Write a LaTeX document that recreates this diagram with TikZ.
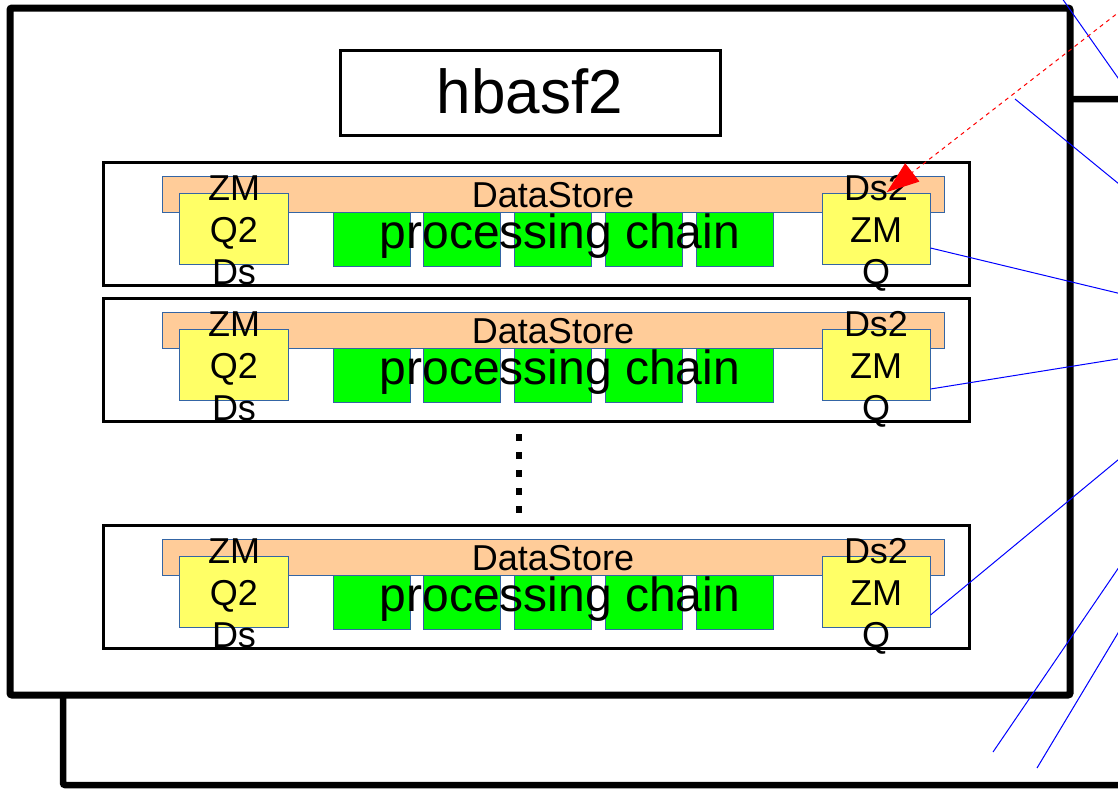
\documentclass[tikz,border=0pt]{standalone}
\usepackage{fontspec}
\setmainfont{Liberation Sans}
\usetikzlibrary{arrows.meta}

\definecolor{dsorange}{RGB}{255,204,153}
\definecolor{zmqyellow}{RGB}{255,255,102}
\definecolor{chaingreen}{RGB}{0,255,0}
\definecolor{shapeedge}{RGB}{52,101,164}

\tikzset{
  frame/.style={draw=black, line width=7pt, fill=white, rounded corners=2pt},
  titlebox/.style={draw=black, line width=3pt, fill=white, inner sep=0pt, outer sep=0pt,
    minimum width=380pt, minimum height=85pt, anchor=north west},
  modbox/.style={draw=black, line width=3pt, fill=white, inner sep=0pt, outer sep=0pt,
    minimum width=865.5pt, minimum height=123.5pt, anchor=north west},
  dsbar/.style={draw=shapeedge, line width=0.8pt, fill=dsorange, inner sep=0pt, outer sep=0pt,
    minimum width=782pt, minimum height=36pt, anchor=north west},
  zmqbox/.style={draw=shapeedge, line width=0.8pt, fill=zmqyellow, inner sep=0pt, outer sep=0pt,
    minimum width=108.5pt, minimum height=71pt, anchor=north west},
  modbox green/.style={draw=shapeedge, line width=0.8pt, fill=chaingreen, inner sep=0pt, outer sep=0pt,
    minimum width=77pt, minimum height=54pt, anchor=north west},
  smalltext/.style={inner sep=0pt, anchor=base, font=\fontsize{36}{42}\selectfont, align=center},
  chaintext/.style={inner sep=0pt, anchor=base, font=\fontsize{48}{56}\selectfont},
  link/.style={draw=blue, line width=1pt},
  input/.style={draw=red, line width=1pt, dash pattern=on 4pt off 4pt,
    -{Triangle[length=32pt, width=23pt]}},
}

\begin{document}
\begin{tikzpicture}[x=1pt, y=-1pt]
\useasboundingbox (0,0) rectangle (1118,788);
\begin{scope}
\clip (0,0) rectangle (1118,788);

% second host frame behind the first one
\draw[frame, line width=6.5pt] (63,99) rectangle (1200,785);
% host frame
\draw[frame] (10,8) rectangle (1070,695);

% host name
\node[titlebox] (title) at (340,50) {};
\node[inner sep=0pt, anchor=base, font=\fontsize{62}{70}\selectfont] (titletext) at (530,113) {hbasf2};

% processing modules (the base anchor of a three-line label is its last line)
\foreach \i/\dy in {1/0, 2/136, 3/363} {
  \node[modbox] (m\i) at (103.5,162+\dy) {};
  \node[dsbar] (ds\i) at (162,176+\dy) {};
  \node[zmqbox] (zl\i) at (179.5,193+\dy) {};
  \node[zmqbox] (zr\i) at (822,193+\dy) {};
  \foreach \k in {0,...,4} {
    \node[modbox green] (g\i\k) at (333+90.8*\k,212+\dy) {};
  }
  \node[smalltext] (dstext\i) at (553,207+\dy) {DataStore};
  \node[chaintext] (chain\i) at (560,248+\dy) {processing chain};
  \node[smalltext] (zltext\i) at (234,284+\dy) {ZM\\Q2\\Ds};
  \node[smalltext] (zrtext\i) at (876,284+\dy) {Ds2\\ZM\\Q};
}

% more modules in between
\coordinate (dotstop) at (519,434);
\coordinate (dotsbot) at (519,512.5);
\draw[line width=6.5pt, dash pattern=on 6.5pt off 11.5pt] (dotstop) -- (dotsbot);

% output links
\coordinate (l1a) at (1052,-16);
\coordinate (l1b) at (1130,95);
\coordinate (l2a) at (1015,99);
\coordinate (l2b) at (1130,193);
\coordinate (l3b) at (1130,296);
\coordinate (l4b) at (1130,357);
\coordinate (l5b) at (1130,450);
\coordinate (l6a) at (993,752);
\coordinate (l6b) at (1130,551);
\coordinate (l7a) at (1037,768);
\coordinate (l7b) at (1130,613);
\draw[link] (l1a) -- (l1b);
\draw[link] (l2a) -- (l2b);
\draw[link] ([yshift=-19.5pt]zr1.east) -- (l3b);
\draw[link] ([yshift=-24.5pt]zr2.east) -- (l4b);
\draw[link] ([yshift=-23.5pt]zr3.east) -- (l5b);
\draw[link] (l6a) -- (l6b);
\draw[link] (l7a) -- (l7b);

% incoming data stream
\coordinate (insrc) at (1141,-5);
\coordinate (intip) at (887,192);
\draw[input] (insrc) -- (intip);
\end{scope}
\end{tikzpicture}
\end{document}
